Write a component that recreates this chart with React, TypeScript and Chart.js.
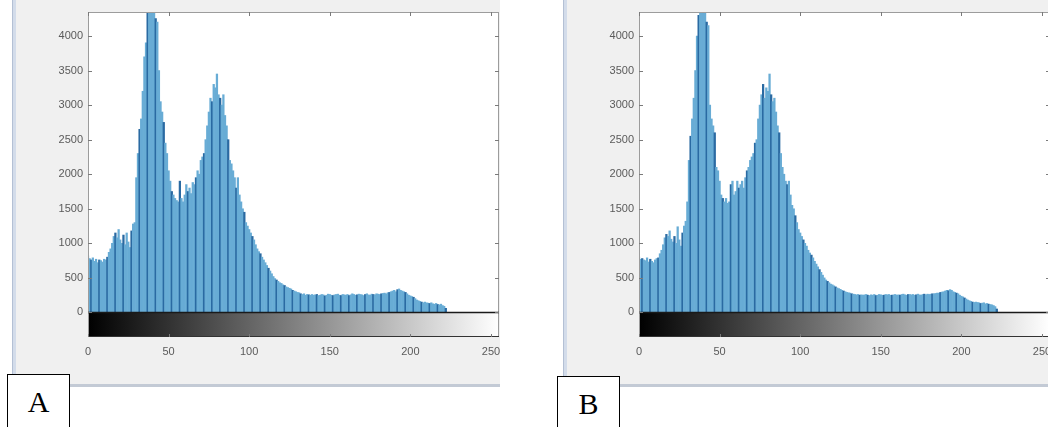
import React, { useEffect, useRef } from "react";
import { Chart, registerables } from "chart.js";

Chart.register(...registerables);

// Grey levels 0..255 (histogram bins)
const grayLevels: number[] = Array.from({ length: 256 }, (_, i) => i);

const yTickValues: number[] = [0, 500, 1000, 1500, 2000, 2500, 3000, 3500, 4000];
const xTickValues: number[] = [0, 50, 100, 150, 200, 250];

const countsA: number[] = [
  820, 780, 760, 790, 740, 770, 720, 760, 750, 730,
  770, 760, 800, 870, 920, 1000, 1100, 1150, 1080, 1200,
  1050, 1000, 1120, 980, 1150, 1020, 940, 1180, 1280, 1300,
  1950, 2300, 2650, 2800, 3200, 3700, 3900, 4500, 4600, 4400,
  4700, 4450, 4250, 4200, 3500, 3050, 2900, 2750, 2450, 2300,
  2050, 1900, 1750, 1700, 1650, 1620, 1600, 1900, 1650, 1600,
  1700, 1850, 1750, 1800, 1720, 1880, 1850, 1950, 2050, 2000,
  2200, 2250, 2300, 2500, 2700, 2900, 3100, 3050, 3300, 3250,
  3450, 3150, 3100, 3000, 3150, 2850, 2700, 2500, 2200, 2150,
  2050, 1950, 1800, 1950, 1700, 1600, 1500, 1450, 1300, 1250,
  1200, 1150, 1100, 1050, 980, 920, 880, 850, 800, 760,
  720, 680, 640, 600, 560, 520, 490, 470, 450, 430,
  420, 400, 390, 370, 360, 350, 340, 320, 310, 300,
  290, 285, 270, 260, 270, 250, 260, 255, 250, 260,
  250, 255, 260, 245, 250, 260, 255, 240, 250, 265,
  260, 250, 245, 255, 260, 265, 250, 245, 260, 255,
  250, 260, 245, 255, 270, 260, 250, 255, 265, 260,
  255, 245, 260, 270, 255, 250, 265, 260, 255, 270,
  265, 260, 270, 275, 280, 270, 285, 290, 300, 310,
  320, 300, 330, 340, 320, 310, 300, 290, 270, 250,
  240, 230, 220, 200, 180, 170, 160, 150, 140, 150,
  140, 135, 130, 140, 125, 120, 130, 115, 110, 120,
  100, 90, 60, 0, 0, 0, 0, 0, 0, 0,
  0, 0, 0, 0, 0, 0, 0, 0, 0, 0,
  0, 0, 0, 0, 0, 0, 0, 0, 0, 0,
  0, 0, 0, 0, 0, 0,
];

const countsB: number[] = [
  800, 770, 780, 760, 750, 790, 730, 770, 740, 720,
  760, 780, 790, 850, 900, 980, 1080, 1130, 1100, 1180,
  1060, 1020, 1100, 1000, 1240, 1050, 960, 1150, 1250, 1320,
  1600, 2200, 2550, 2800, 3100, 3500, 4000, 4300, 4500, 4700,
  4600, 4500, 4200, 4150, 3000, 2800, 2700, 2600, 2100, 2050,
  1900, 1700, 1650, 1600, 1650, 1580, 1600, 1850, 1900, 1700,
  1750, 1900, 1800, 1850, 1900, 1800, 1950, 2050, 2100, 2200,
  2250, 2300, 2450, 2500, 2800, 3000, 3150, 3300, 3100, 3250,
  3200, 3450, 3150, 3050, 3100, 2900, 2700, 2600, 2300, 2100,
  2000, 1900, 1850, 1900, 1700, 1550, 1500, 1400, 1300, 1200,
  1150, 1100, 1050, 1000, 960, 900, 860, 830, 790, 740,
  700, 660, 620, 580, 540, 500, 470, 450, 430, 410,
  400, 385, 370, 355, 345, 335, 320, 310, 300, 290,
  285, 280, 270, 265, 260, 255, 260, 250, 255, 250,
  255, 260, 250, 245, 255, 250, 260, 245, 250, 260,
  255, 250, 250, 260, 255, 260, 250, 250, 255, 260,
  250, 255, 250, 260, 265, 255, 250, 260, 260, 255,
  260, 250, 255, 265, 255, 250, 260, 265, 255, 265,
  260, 265, 270, 270, 275, 280, 280, 290, 295, 300,
  310, 320, 315, 330, 320, 300, 290, 280, 270, 250,
  235, 225, 210, 195, 180, 170, 160, 150, 145, 150,
  145, 140, 130, 135, 140, 125, 130, 120, 115, 110,
  100, 85, 50, 0, 0, 0, 0, 0, 0, 0,
  0, 0, 0, 0, 0, 0, 0, 0, 0, 0,
  0, 0, 0, 0, 0, 0, 0, 0, 0, 0,
  0, 0, 0, 0, 0, 0,
];

const BAR_FILL = "#68acd5";
const BAR_STRIPE = "#2a6aa2";
const TICK_COLOR = "#5a5a5a";

const framePlugin = {
  id: "matlabFrame",
  beforeDraw(chart: any) {
    const { ctx, chartArea: a } = chart;
    ctx.save();
    ctx.fillStyle = "#ffffff";
    ctx.fillRect(a.left, a.top, a.right - a.left, a.bottom - a.top);
    ctx.restore();
  },
  afterDraw(chart: any) {
    const { ctx, chartArea: a, scales } = chart;
    const xs = scales.x;
    const ys = scales.y;
    const y0 = ys.getPixelForValue(0);
    const gx0 = xs.getPixelForValue(0);
    const gx1 = xs.getPixelForValue(255);
    ctx.save();
    // colour bar (gray colormap)
    const g = ctx.createLinearGradient(gx0, 0, gx1, 0);
    g.addColorStop(0, "#000000");
    g.addColorStop(1, "#ffffff");
    ctx.fillStyle = g;
    ctx.fillRect(gx0, y0, gx1 - gx0, a.bottom - y0);
    // axes box
    ctx.strokeStyle = "#9c9c9c";
    ctx.lineWidth = 1;
    ctx.strokeRect(a.left + 0.5, a.top + 0.5, a.right - a.left - 1, a.bottom - a.top - 1);
    // zero line / colour bar top
    ctx.strokeStyle = "#1a1a1a";
    ctx.lineWidth = 1.5;
    ctx.beginPath();
    ctx.moveTo(a.left, y0);
    ctx.lineTo(a.right, y0);
    ctx.stroke();
    // colour bar bottom
    ctx.strokeStyle = "#333333";
    ctx.lineWidth = 1;
    ctx.beginPath();
    ctx.moveTo(a.left, a.bottom - 0.5);
    ctx.lineTo(a.right, a.bottom - 0.5);
    ctx.stroke();
    // tick marks
    ctx.strokeStyle = "#7a7a7a";
    ctx.lineWidth = 1;
    ctx.beginPath();
    for (const v of yTickValues) {
      const py = Math.round(ys.getPixelForValue(v)) + 0.5;
      ctx.moveTo(a.left, py);
      ctx.lineTo(a.left + 4, py);
      ctx.moveTo(a.right, py);
      ctx.lineTo(a.right - 4, py);
    }
    for (const v of xTickValues) {
      const px = Math.round(xs.getPixelForValue(v)) + 0.5;
      ctx.moveTo(px, a.top);
      ctx.lineTo(px, a.top + 4);
      ctx.moveTo(px, a.bottom);
      ctx.lineTo(px, a.bottom - 3);
    }
    ctx.stroke();
    ctx.restore();
  },
};

function makeConfig(counts: number[]): any {
  return {
    type: "bar",
    data: {
      datasets: [
        {
          data: grayLevels.map((g, i) => ({ x: g, y: counts[i] })),
          backgroundColor: (c: any) => (c.dataIndex % 5 === 2 ? BAR_STRIPE : BAR_FILL),
          borderWidth: 0,
          barPercentage: 1,
          categoryPercentage: 1,
        },
      ],
    },
    options: {
      responsive: false,
      animation: false,
      layout: { padding: { top: 12, right: 33, bottom: 0, left: 0 } },
      plugins: { legend: { display: false }, tooltip: { enabled: false } },
      scales: {
        x: {
          type: "linear",
          min: 0,
          max: 255,
          offset: false,
          grid: { display: false, drawTicks: false },
          border: { display: false },
          ticks: {
            padding: 8,
            color: TICK_COLOR,
            font: { family: "'Liberation Sans', Arial, sans-serif", size: 11 },
            maxRotation: 0,
            autoSkip: false,
            callback: (v: any) => String(v),
          },
          afterBuildTicks: (s: any) => {
            s.ticks = xTickValues.map((v) => ({ value: v }));
          },
          afterFit: (s: any) => {
            s.height = 50;
          },
        },
        y: {
          min: -355,
          max: 4347,
          grid: { display: false, drawTicks: false },
          border: { display: false },
          ticks: {
            padding: 5,
            color: TICK_COLOR,
            font: { family: "'Liberation Sans', Arial, sans-serif", size: 11 },
            autoSkip: false,
            callback: (v: any) => String(v),
          },
          afterBuildTicks: (s: any) => {
            s.ticks = yTickValues.map((v) => ({ value: v }));
          },
          afterFit: (s: any) => {
            s.width = 76;
          },
        },
      },
    },
    plugins: [framePlugin],
  };
}

function HistPanel({ counts, left, width }: { counts: number[]; left: number; width: number }) {
  const ref = useRef<HTMLCanvasElement | null>(null);
  useEffect(() => {
    if (!ref.current) return;
    const chart = new Chart(ref.current, makeConfig(counts));
    return () => chart.destroy();
  }, [counts]);
  return (
    <div
      style={{
        position: "absolute",
        left,
        top: 0,
        width,
        height: 387,
        background: "#f0f0f0",
        overflow: "hidden",
      }}
    >
      <div style={{ position: "absolute", left: 0, top: 0, width: 4, height: 387, background: "#d3dcea" }} />
      <div style={{ position: "absolute", left: 0, top: 0, width: 1, height: 387, background: "#b4c0d4" }} />
      <div style={{ position: "absolute", left: 0, bottom: 0, width: "100%", height: 3, background: "#c3cad5" }} />
      <canvas
        ref={ref}
        width={520}
        height={387}
        style={{ position: "absolute", left: 0, top: 0, width: 520, height: 387 }}
      />
    </div>
  );
}

function LabelBox({ text, left, top }: { text: string; left: number; top: number }) {
  return (
    <div
      style={{
        position: "absolute",
        left,
        top,
        width: 63,
        height: 70,
        boxSizing: "border-box",
        border: "1.5px solid #000",
        background: "#ffffff",
      }}
    >
      <div
        style={{
          position: "absolute",
          left: 0,
          top: 12,
          width: "100%",
          textAlign: "center",
          fontFamily: "'Liberation Serif', 'Times New Roman', serif",
          fontSize: 30,
          lineHeight: "30px",
          color: "#000",
        }}
      >
        {text}
      </div>
    </div>
  );
}

export default function App() {
  return (
    <div
      style={{
        position: "fixed",
        left: 0,
        top: 0,
        width: 1048,
        height: 427,
        background: "#ffffff",
        overflow: "hidden",
      }}
    >
      <HistPanel counts={countsA} left={12} width={488} />
      <HistPanel counts={countsB} left={563} width={485} />
      <LabelBox text="A" left={7} top={374} />
      <LabelBox text="B" left={557} top={376} />
    </div>
  );
}
